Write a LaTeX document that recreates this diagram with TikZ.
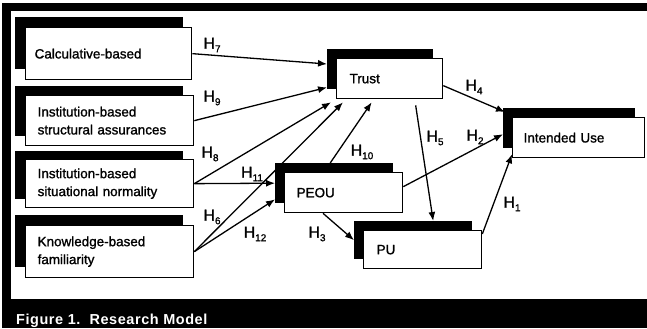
\documentclass[tikz,border=0pt]{standalone}
\usepackage{fontspec}
\setmainfont{Liberation Sans}
\newfontfamily\heavysans[FakeBold=1.2]{Liberation Sans}
\newfontfamily\capsans[LetterSpace=4]{Liberation Sans Bold}
\usetikzlibrary{arrows.meta,calc}
\newcommand\hyp[1]{H\raisebox{-3.5bp}{\fontsize{10}{10}\selectfont #1}}
\newcommand\boxfont{\heavysans\fontsize{13.5}{18}\selectfont}
\begin{document}
\begin{tikzpicture}[x=1bp,y=-1bp,
  shadowbox/.style={fill=black, draw=none, inner sep=0pt, anchor=north west},
  mbox/.style={draw=black, line width=1.3bp, fill=white, inner xsep=10bp, inner ysep=0pt, anchor=north west, align=left, font=\boxfont},
  conn/.style={line width=1.3bp, -{Latex[length=9bp,width=7bp]}},
  lbl/.style={font=\heavysans\fontsize{16}{16}\selectfont, inner sep=0pt}]
\useasboundingbox (0,0) rectangle (647,328);
% frame
\fill[black] (2,3) rectangle (647,328);
\fill[white] (11,11) rectangle (647,299);
\node[anchor=base west, text=white, font=\capsans\fontsize{14.5}{15}\selectfont, inner sep=0pt] (cap) at (16,324) {Figure 1.\ \ Research Model};
% shadows
\node[shadowbox, minimum width=168bp, minimum height=52bp] (calcS) at (15,17) {};
\node[shadowbox, minimum width=168bp, minimum height=50bp] (structS) at (15,86) {};
\node[shadowbox, minimum width=168bp, minimum height=48bp] (situS) at (15,151) {};
\node[shadowbox, minimum width=168bp, minimum height=52bp] (knowS) at (15,215) {};
\node[shadowbox, minimum width=106bp, minimum height=40bp] (trustS) at (327,49) {};
\node[shadowbox, minimum width=132bp, minimum height=40bp] (iuS) at (503,108) {};
\node[shadowbox, minimum width=118bp, minimum height=40bp] (peouS) at (275,163) {};
\node[shadowbox, minimum width=118bp, minimum height=38bp] (puS) at (354,221) {};
% boxes
\node[mbox, minimum height=52bp, text width=148bp, inner xsep=9bp] (calc) at (25,27) {Calculative-based};
\node[mbox, minimum height=50bp, text width=144bp, inner xsep=12bp] (struct) at (25,95) {Institution-based\\structural assurances};
\node[mbox, minimum height=48bp, text width=144bp, inner xsep=12bp] (situ) at (25,159) {Institution-based\\situational normality};
\node[mbox, minimum height=52bp, text width=144bp, inner xsep=12bp] (know) at (25,225) {Knowledge-based\\familiarity};
\node[mbox, minimum height=40bp, text width=80bp, inner xsep=13bp] (trust) at (336,58) {Trust};
\node[mbox, minimum height=40bp, text width=110bp, inner xsep=11bp] (iu) at (512,117) {Intended Use};
\node[mbox, minimum height=40bp, text width=94bp, inner xsep=12bp] (peou) at (284,172) {PEOU};
\node[mbox, minimum height=38bp, text width=92bp, inner xsep=13bp] (pu) at (363,230) {\raisebox{-4bp}{PU}};
% connectors
\draw[conn] (calc.east) -- ($(trustS.north west)+(0,15)$);
\draw[conn] (struct.east) -- ($(trustS.south west)+(0,-2)$);
\draw[conn] (situ.east) -- ($(trust.south west)+(-5,3)$);
\draw[conn] (know.east) -- ($(trust.south west)+(7,3)$);
\draw[conn] ($(peouS.north)+(-4,0)$) -- ($(trust.south)+(-18,3)$);
\draw[conn] (situ.east) -- (peouS.west);
\draw[conn] (know.east) -- ($(peouS.south west)+(0,-4)$);
\draw[conn] ($(trust.east)+(0,7)$) -- ($(iuS.north west)+(2,4)$);
\draw[conn] ($(peou.east)+(0,-6)$) -- ($(iuS.west)+(0,6)$);
\draw[conn] ($(pu.north east)+(0,4)$) -- ($(iu.south west)+(0,-4)$);
\draw[conn] ($(peou.south west)+(39,0)$) -- (puS.west);
\draw[conn] ($(trust.south)+(26,6)$) -- ($(puS.north)+(20,0)$);
% labels
\node[lbl] (l7) at (212,45) {\hyp{7}};
\node[lbl] (l9) at (212,98) {\hyp{9}};
\node[lbl] (l8) at (210,154) {\hyp{8}};
\node[lbl] (l11) at (252,174) {\hyp{11}};
\node[lbl] (l6) at (212,217) {\hyp{6}};
\node[lbl] (l12) at (255,234) {\hyp{12}};
\node[lbl] (l10) at (362,152) {\hyp{10}};
\node[lbl] (l4) at (474,87) {\hyp{4}};
\node[lbl] (l5) at (435,138) {\hyp{5}};
\node[lbl] (l2) at (475,137) {\hyp{2}};
\node[lbl] (l1) at (512,204) {\hyp{1}};
\node[lbl] (l3) at (317,234) {\hyp{3}};
\end{tikzpicture}
\end{document}
